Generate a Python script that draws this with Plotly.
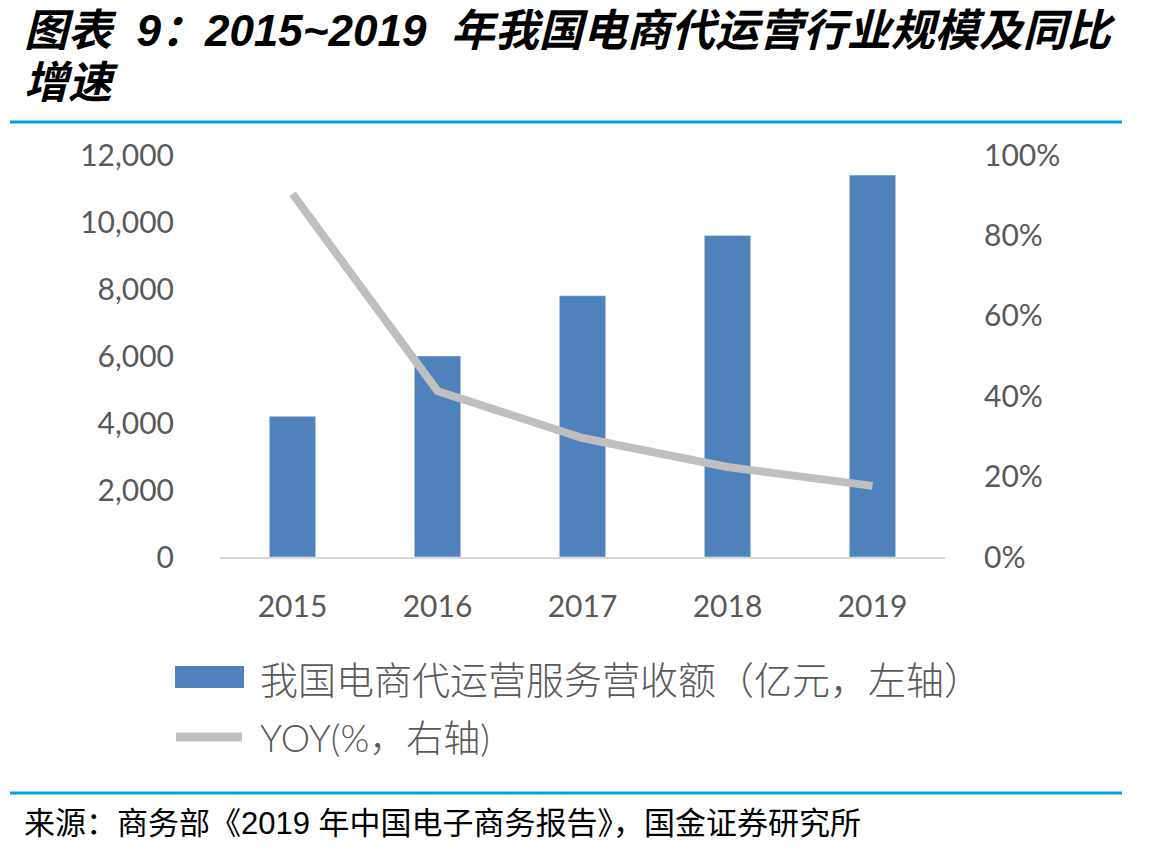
import plotly.graph_objects as go

years = ["2015", "2016", "2017", "2018", "2019"]
revenue = [4200, 6000, 7800, 9600, 11400]
yoy = [0.903, 0.413, 0.296, 0.224, 0.177]

left_ticks = [0, 2000, 4000, 6000, 8000, 10000, 12000]
left_labels = ["0", "2,000", "4,000", "6,000", "8,000", "10,000", "12,000"]
right_ticks = [0, 0.2, 0.4, 0.6, 0.8, 1.0]
right_labels = ["0%", "20%", "40%", "60%", "80%", "100%"]

bar_name = "我国电商代运营服务营收额（亿元，左轴）"
line_name = "YOY(%，右轴)"
title_line1 = "图表  9：2015~2019  年我国电商代运营行业规模及同比"
title_line2 = "增速"
source_text = "来源：商务部《2019 年中国电子商务报告》，国金证券研究所"

BLUE = "#4F81BD"
GREY = "#BFBFBF"
TXT = "#595959"
W, H = 1166, 853
ML, MR, MT, MB = 220, 221, 155, 296

fig = go.Figure()
fig.add_trace(go.Bar(x=years, y=revenue, name=bar_name, marker_color=BLUE,
                     width=0.32, yaxis="y", showlegend=False))
fig.add_trace(go.Scatter(x=years, y=yoy, name=line_name, mode="lines",
                         line=dict(color=GREY, width=8), yaxis="y2", showlegend=False))

pw, ph = W - ML - MR, H - MT - MB
def px(x):
    return (x - ML) / pw
def py(y):
    return (H - MB - y) / ph

shapes = [
    dict(type="line", xref="paper", yref="paper", x0=px(10), x1=px(1122),
         y0=py(122), y1=py(122), line=dict(color="#00A0E9", width=3)),
    dict(type="line", xref="paper", yref="paper", x0=px(10), x1=px(1122),
         y0=py(793), y1=py(793), line=dict(color="#00A0E9", width=3)),
    dict(type="rect", xref="paper", yref="paper", x0=px(175), x1=px(244),
         y0=py(688), y1=py(666), fillcolor=BLUE, line=dict(width=0)),
    dict(type="line", xref="paper", yref="paper", x0=px(176), x1=px(242),
         y0=py(737), y1=py(737), line=dict(color=GREY, width=9)),
]

annotations = [
    dict(text="<b><i>" + title_line1 + "</i></b>", xref="paper", yref="paper",
         x=px(22), y=py(30), xanchor="left", yanchor="middle", showarrow=False, align="left",
         font=dict(family="Liberation Sans, Noto Sans CJK SC", size=44, color="black")),
    dict(text="<b><i>" + title_line2 + "</i></b>", xref="paper", yref="paper",
         x=px(22), y=py(82), xanchor="left", yanchor="middle", showarrow=False, align="left",
         font=dict(family="Liberation Sans, Noto Sans CJK SC", size=44, color="black")),
    dict(text=bar_name, xref="paper", yref="paper", x=px(258), y=py(677),
         xanchor="left", yanchor="middle", showarrow=False,
         font=dict(family="Noto Sans CJK SC", size=38, color=TXT, weight=300)),
    dict(text=line_name, xref="paper", yref="paper", x=px(258), y=py(737),
         xanchor="left", yanchor="middle", showarrow=False,
         font=dict(family="Lato, Noto Sans CJK SC", size=37, color=TXT, weight=300)),
    dict(text=source_text, xref="paper", yref="paper", x=px(22), y=py(823),
         xanchor="left", yanchor="middle", showarrow=False,
         font=dict(family="Liberation Sans, Noto Sans CJK SC", size=31, color="black")),
]

fig.update_layout(
    width=W, height=H,
    margin=dict(l=ML, r=MR, t=MT, b=MB),
    paper_bgcolor="white", plot_bgcolor="white",
    font=dict(family="Lato, Noto Sans CJK SC", color=TXT, size=30),
    xaxis=dict(showgrid=False, showline=True, linecolor="#D9D9D9", linewidth=2,
               ticks="", tickfont=dict(size=30, color=TXT), ticklabelstandoff=22),
    yaxis=dict(range=[0, 12000], tickvals=left_ticks, ticktext=left_labels,
               showgrid=False, zeroline=False, showline=False,
               tickfont=dict(size=30, color=TXT), ticklabelstandoff=45),
    yaxis2=dict(range=[0, 1], tickvals=right_ticks, ticktext=right_labels,
                overlaying="y", side="right", showgrid=False, zeroline=False,
                showline=False, tickfont=dict(size=30, color=TXT), ticklabelstandoff=38),
    shapes=shapes,
    annotations=annotations,
)

fig.write_html("out.html")
